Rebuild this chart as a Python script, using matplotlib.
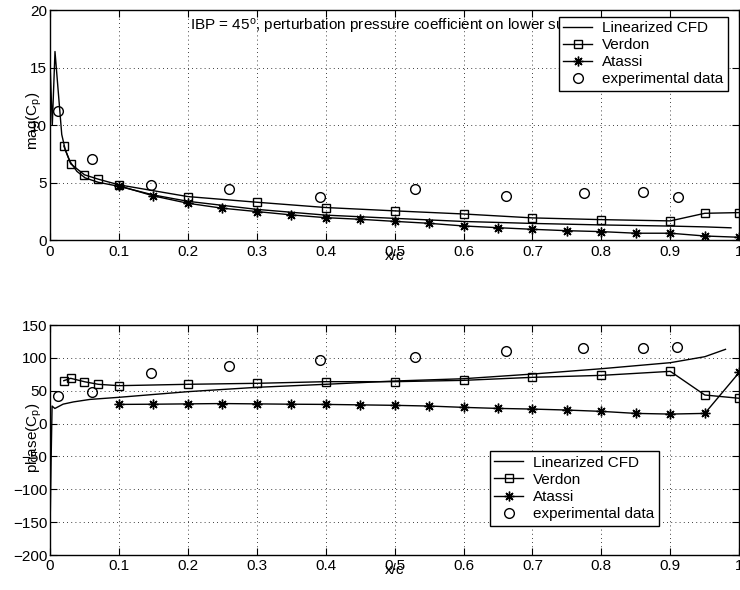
import matplotlib
matplotlib.use('Agg')
import matplotlib.pyplot as plt

plt.rcParams['font.family'] = ['Liberation Sans', 'DejaVu Sans']
plt.rcParams['font.size'] = 11
plt.rcParams['mathtext.fontset'] = 'custom'
plt.rcParams['mathtext.rm'] = 'Liberation Sans'
plt.rcParams['mathtext.it'] = 'Liberation Sans:italic'
plt.rcParams['axes.unicode_minus'] = True

# --- magnitude of Cp (upper panel) ---
mag_cfd_x = [0.0, 0.0033, 0.0072, 0.017, 0.022, 0.029, 0.039, 0.051, 0.07, 0.1,
             0.15, 0.2, 0.3, 0.4, 0.5, 0.6, 0.7, 0.8, 0.9, 0.95, 0.988]
mag_cfd_y = [15.4, 10.0, 16.4, 9.2, 7.9, 6.85, 6.0, 5.43, 5.05, 4.7,
             3.95, 3.4, 2.7, 2.2, 1.92, 1.65, 1.48, 1.35, 1.25, 1.18, 1.1]

mag_verdon_x = [0.02, 0.03, 0.05, 0.07, 0.1, 0.2, 0.3, 0.4, 0.5, 0.6, 0.7, 0.8, 0.9, 0.95, 1.0]
mag_verdon_y = [8.2, 6.65, 5.7, 5.32, 4.83, 3.81, 3.32, 2.86, 2.57, 2.30, 1.96, 1.81, 1.70, 2.36, 2.42]

mag_atassi_x = [0.1, 0.15, 0.2, 0.25, 0.3, 0.35, 0.4, 0.45, 0.5, 0.55,
                0.6, 0.65, 0.7, 0.75, 0.8, 0.85, 0.9, 0.95, 1.0]
mag_atassi_y = [4.75, 3.87, 3.23, 2.8, 2.51, 2.22, 1.98, 1.84, 1.66, 1.49,
                1.26, 1.11, 0.97, 0.85, 0.77, 0.63, 0.63, 0.39, 0.28]

mag_exp_x = [0.012, 0.061, 0.147, 0.26, 0.391, 0.53, 0.661, 0.775, 0.86, 0.911]
mag_exp_y = [11.2, 7.06, 4.83, 4.45, 3.75, 4.45, 3.9, 4.16, 4.22, 3.81]

# --- phase of Cp (lower panel) ---
ph_cfd_x = [0.0, 0.0015, 0.003, 0.007, 0.019, 0.034, 0.058, 0.1, 0.2, 0.3, 0.4,
            0.5, 0.6, 0.7, 0.8, 0.9, 0.95, 0.98]
ph_cfd_y = [-165, -60, 26.7, 23.0, 29.6, 33.0, 36.8, 40.0, 48.6, 55.2, 59.8,
            64.8, 68.3, 75.4, 83.5, 92.7, 101.8, 113.0]

ph_verdon_x = mag_verdon_x
ph_verdon_y = [65.3, 68.9, 63.7, 59.8, 57.7, 59.8, 61.3, 63.8, 63.8, 65.8, 70.4, 73.4, 79.5, 43.5, 38.5]

ph_atassi_x = mag_atassi_x
ph_atassi_y = [29.2, 29.5, 30.0, 30.5, 30.0, 29.5, 29.2, 28.5, 27.8, 26.7,
               24.7, 23.1, 22.1, 20.6, 18.6, 15.5, 14.5, 15.5, 78.0]

ph_exp_x = [0.012, 0.061, 0.147, 0.26, 0.391, 0.53, 0.661, 0.774, 0.86, 0.91]
ph_exp_y = [41.8, 47.6, 76.5, 88.1, 96.7, 101.8, 110.9, 114.5, 114.5, 117.0]

labels = ['Linearized CFD', 'Verdon', 'Atassi', 'experimental data']
xticks = [0, 0.1, 0.2, 0.3, 0.4, 0.5, 0.6, 0.7, 0.8, 0.9, 1.0]
xticklabels = ['0', '0.1', '0.2', '0.3', '0.4', '0.5', '0.6', '0.7', '0.8', '0.9', '1']

star = (8, 2, 0)


def draw(ax, cfd, verdon, atassi, exp):
    ax.plot(*cfd, color='k', lw=1.0, label=labels[0])
    ax.plot(*verdon, color='k', lw=1.0, marker='s', ms=5.5, mfc='none', mec='k',
            mew=1.0, label=labels[1])
    ax.plot(*atassi, color='k', lw=1.0, marker=star, ms=7, mew=1.0, label=labels[2])
    ax.plot(*exp, ls='none', marker='o', ms=7, mfc='none', mec='k', mew=1.0,
            label=labels[3])
    ax.set_xlim(0, 1)
    ax.set_xticks(xticks)
    ax.set_xticklabels(xticklabels)
    ax.grid(True, color='k', lw=0.6, linestyle=(0, (1, 4)))
    ax.tick_params(direction='in', top=True, right=True, length=5, pad=3)
    ax.tick_params(axis='y', pad=2)
    for s in ax.spines.values():
        s.set_linewidth(1.0)
    ax.set_xlabel('x/c', labelpad=-7)


def add_legend(ax, anchor):
    leg = ax.legend(loc='upper left', bbox_to_anchor=anchor, borderaxespad=0,
                    fancybox=False, edgecolor='k', framealpha=1, handlelength=1.9,
                    handletextpad=0.65, labelspacing=0.2, borderpad=0.3)
    leg.get_frame().set_linewidth(1.0)
    leg.set_zorder(10)
    return leg


fig = plt.figure(figsize=(7.4, 5.9), dpi=100)
ax1 = fig.add_axes([0.0676, 0.5924, 0.9314, 0.3906])
ax2 = fig.add_axes([0.0676, 0.0593, 0.9314, 0.3898])

draw(ax1, (mag_cfd_x, mag_cfd_y), (mag_verdon_x, mag_verdon_y),
     (mag_atassi_x, mag_atassi_y), (mag_exp_x, mag_exp_y))
ax1.set_ylim(0, 20)
ax1.set_yticks([0, 5, 10, 15, 20])
ax1.set_ylabel(r'mag(C$_{\rm p}$)')
ax1.yaxis.set_label_coords(-0.009, 0.52)
ax1.text(0.203, 18.2, r'IBP = 45$^{\rm o}$, perturbation pressure coefficient on lower surface',
         fontsize=11, ha='left', va='baseline', zorder=3)
add_legend(ax1, (0.738, 0.971))

draw(ax2, (ph_cfd_x, ph_cfd_y), (ph_verdon_x, ph_verdon_y),
     (ph_atassi_x, ph_atassi_y), (ph_exp_x, ph_exp_y))
ax2.set_ylim(-200, 150)
ax2.set_yticks([-200, -150, -100, -50, 0, 50, 100, 150])
ax2.set_ylabel(r'phase(C$_{\rm p}$)')
ax2.yaxis.set_label_coords(-0.009, 0.51)
add_legend(ax2, (0.638, 0.4515))

fig.savefig('out.png', dpi=100)
